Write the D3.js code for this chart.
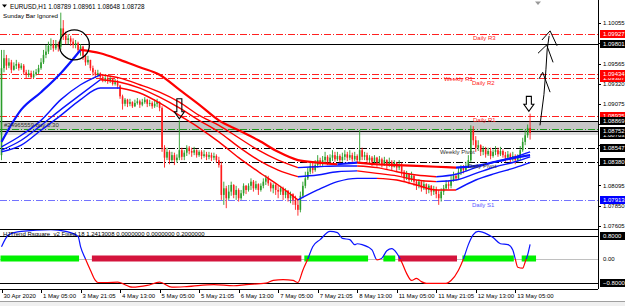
<!DOCTYPE html>
<html>
<head>
<meta charset="utf-8">
<script src="https://cdn.jsdelivr.net/npm/d3@7"></script>
<style>
  body { margin: 0; background: #fff; }
  svg { display: block; font-family: "Liberation Sans", Arial, sans-serif; font-size: 6px; }
</style>
</head>
<body>
<svg id="svg" width="625" height="306"></svg>
<script>
// DATA - EURUSD H1 candles, bar 0 = 30 Apr 2020
var open = [1.0846,1.0951,1.0963,1.0954,1.0958,1.0949,1.0954,1.0956,1.0951,1.0954,
  1.0946,1.0943,1.0945,1.0940,1.0944,1.0946,1.0951,1.0958,1.0967,1.0971,
  1.0978,1.0980,1.0975,1.0979,1.0977,1.0999,1.0990,1.0985,1.0987,1.0983,
  1.0979,1.0981,1.0973,1.0977,1.0966,1.0958,1.0961,1.0951,1.0946,1.0943,
  1.0945,1.0940,1.0937,1.0939,1.0936,1.0938,1.0932,1.0934,1.0930,1.0917,
  1.0908,1.0913,1.0908,1.0910,1.0905,1.0909,1.0911,1.0907,1.0910,1.0913,
  1.0908,1.0909,1.0905,1.0908,1.0910,1.0903,1.0855,1.0843,1.0850,1.0840,
  1.0846,1.0840,1.0843,1.0852,1.0844,1.0849,1.0855,1.0851,1.0849,1.0852,
  1.0846,1.0850,1.0845,1.0847,1.0844,1.0846,1.0843,1.0845,1.0840,1.0834,
  1.0798,1.0806,1.0794,1.0802,1.0810,1.0798,1.0804,1.0794,1.0800,1.0809,
  1.0804,1.0809,1.0814,1.0806,1.0811,1.0804,1.0809,1.0814,1.0818,1.0812,
  1.0806,1.0810,1.0804,1.0802,1.0806,1.0798,1.0803,1.0794,1.0799,1.0792,
  1.0786,1.0780,1.0797,1.0809,1.0818,1.0826,1.0833,1.0828,1.0834,1.0840,
  1.0835,1.0840,1.0844,1.0838,1.0843,1.0846,1.0841,1.0845,1.0840,1.0844,
  1.0847,1.0843,1.0846,1.0841,1.0845,1.0840,1.0852,1.0844,1.0846,1.0840,
  1.0843,1.0838,1.0843,1.0837,1.0841,1.0835,1.0840,1.0834,1.0838,1.0832,
  1.0837,1.0831,1.0834,1.0826,1.0818,1.0823,1.0816,1.0821,1.0814,1.0809,
  1.0814,1.0806,1.0811,1.0804,1.0809,1.0802,1.0805,1.0799,1.0794,1.0802,
  1.0806,1.0811,1.0809,1.0816,1.0821,1.0818,1.0826,1.0831,1.0828,1.0833,
  1.0840,1.0876,1.0864,1.0855,1.0858,1.0850,1.0853,1.0847,1.0851,1.0845,
  1.0850,1.0852,1.0847,1.0851,1.0846,1.0843,1.0847,1.0841,1.0845,1.0840,
  1.0844,1.0852,1.0862,1.0870,1.08789];
var high = [1.0973,1.0973,1.0967,1.0963,1.0961,1.0958,1.0961,1.0958,1.0957,1.0956,
  1.0949,1.0949,1.0948,1.0948,1.0950,1.0955,1.0963,1.0973,1.0979,1.0983,
  1.0987,1.0985,1.0985,1.0983,1.1018,1.1009,1.0995,1.0992,1.0990,1.0987,
  1.0985,1.0983,1.0980,1.0978,1.0967,1.0966,1.0961,1.0954,1.0949,1.0949,
  1.0946,1.0944,1.0943,1.0942,1.0942,1.0939,1.0938,1.0937,1.0931,1.0919,
  1.0915,1.0914,1.0914,1.0911,1.0913,1.0915,1.0913,1.0914,1.0916,1.0914,
  1.0913,1.0911,1.0913,1.0914,1.0911,1.0905,1.0858,1.0855,1.0852,1.0850,
  1.0849,1.0847,1.0888,1.0855,1.0852,1.0858,1.0857,1.0855,1.0856,1.0853,
  1.0852,1.0852,1.0852,1.0850,1.0850,1.0849,1.0849,1.0847,1.0844,1.0838,
  1.0814,1.0809,1.0810,1.0814,1.0811,1.0809,1.0806,1.0804,1.0812,1.0810,
  1.0812,1.0818,1.0816,1.0815,1.0812,1.0812,1.0818,1.0822,1.0821,1.0814,
  1.0812,1.0811,1.0809,1.0809,1.0808,1.0806,1.0804,1.0802,1.0800,1.0797,
  1.0792,1.0802,1.0814,1.0826,1.0831,1.0838,1.0837,1.0840,1.0846,1.0843,
  1.0845,1.0850,1.0846,1.0847,1.0852,1.0850,1.0850,1.0847,1.0849,1.0852,
  1.0850,1.0852,1.0849,1.0850,1.0847,1.0876,1.0855,1.0850,1.0849,1.0846,
  1.0845,1.0846,1.0844,1.0845,1.0843,1.0844,1.0841,1.0843,1.0840,1.0840,
  1.0838,1.0840,1.0837,1.0828,1.0827,1.0824,1.0826,1.0822,1.0816,1.0817,
  1.0815,1.0816,1.0812,1.0811,1.0810,1.0809,1.0808,1.0804,1.0806,1.0810,
  1.0816,1.0815,1.0821,1.0826,1.0824,1.0831,1.0834,1.0834,1.0838,1.0846,
  1.0882,1.0881,1.0869,1.0864,1.0859,1.0857,1.0856,1.0855,1.0855,1.0853,
  1.0857,1.0855,1.0856,1.0853,1.0850,1.0851,1.0849,1.0850,1.0847,1.0847,
  1.0857,1.0867,1.0876,1.0883,1.08961];
var low = [1.0840,1.0946,1.0949,1.0951,1.0945,1.0948,1.0950,1.0948,1.0949,1.0943,
  1.0939,1.0940,1.0938,1.0939,1.0942,1.0944,1.0949,1.0956,1.0963,1.0968,
  1.0973,1.0971,1.0973,1.0971,1.0973,1.0985,1.0980,1.0980,1.0978,1.0975,
  1.0975,1.0969,1.0966,1.0961,1.0954,1.0955,1.0948,1.0942,1.0939,1.0940,
  1.0937,1.0934,1.0934,1.0932,1.0933,1.0930,1.0930,1.0926,1.0914,1.0901,
  1.0905,1.0904,1.0905,1.0903,1.0904,1.0907,1.0903,1.0905,1.0908,1.0904,
  1.0905,1.0902,1.0903,1.0904,1.0899,1.0850,1.0831,1.0840,1.0835,1.0838,
  1.0834,1.0837,1.0840,1.0840,1.0840,1.0845,1.0847,1.0844,1.0846,1.0843,
  1.0844,1.0841,1.0843,1.0840,1.0841,1.0839,1.0840,1.0837,1.0831,1.0792,
  1.0786,1.0782,1.0792,1.0797,1.0794,1.0792,1.0790,1.0792,1.0797,1.0799,
  1.0802,1.0804,1.0802,1.0804,1.0798,1.0802,1.0806,1.0810,1.0809,1.0802,
  1.0800,1.0798,1.0794,1.0798,1.0792,1.0794,1.0790,1.0788,1.0786,1.0780,
  1.0773,1.0777,1.0794,1.0806,1.0816,1.0823,1.0824,1.0826,1.0831,1.0832,
  1.0833,1.0837,1.0834,1.0835,1.0839,1.0838,1.0839,1.0837,1.0838,1.0840,
  1.0839,1.0840,1.0838,1.0839,1.0837,1.0838,1.0840,1.0840,1.0837,1.0835,
  1.0833,1.0835,1.0832,1.0834,1.0831,1.0833,1.0829,1.0832,1.0828,1.0831,
  1.0826,1.0828,1.0821,1.0814,1.0816,1.0811,1.0814,1.0809,1.0804,1.0806,
  1.0802,1.0804,1.0799,1.0800,1.0797,1.0798,1.0794,1.0786,1.0790,1.0798,
  1.0804,1.0805,1.0806,1.0814,1.0815,1.0816,1.0822,1.0824,1.0826,1.0831,
  1.0838,1.0858,1.0850,1.0851,1.0845,1.0846,1.0843,1.0845,1.0841,1.0843,
  1.0846,1.0844,1.0845,1.0843,1.0838,1.0840,1.0837,1.0839,1.0835,1.0838,
  1.0840,1.0850,1.0858,1.0867,1.08648];
var close = [1.0951,1.0963,1.0954,1.0958,1.0949,1.0954,1.0956,1.0951,1.0954,1.0946,
  1.0943,1.0945,1.0940,1.0944,1.0946,1.0951,1.0958,1.0967,1.0971,1.0978,
  1.0980,1.0975,1.0979,1.0977,1.0999,1.0990,1.0985,1.0987,1.0983,1.0979,
  1.0981,1.0973,1.0977,1.0966,1.0958,1.0961,1.0951,1.0946,1.0943,1.0945,
  1.0940,1.0937,1.0939,1.0936,1.0938,1.0932,1.0934,1.0930,1.0917,1.0908,
  1.0913,1.0908,1.0910,1.0905,1.0909,1.0911,1.0907,1.0910,1.0913,1.0908,
  1.0909,1.0905,1.0908,1.0910,1.0903,1.0855,1.0843,1.0850,1.0840,1.0846,
  1.0840,1.0843,1.0852,1.0844,1.0849,1.0855,1.0851,1.0849,1.0852,1.0846,
  1.0850,1.0845,1.0847,1.0844,1.0846,1.0843,1.0845,1.0840,1.0834,1.0798,
  1.0806,1.0794,1.0802,1.0810,1.0798,1.0804,1.0794,1.0800,1.0809,1.0804,
  1.0809,1.0814,1.0806,1.0811,1.0804,1.0809,1.0814,1.0818,1.0812,1.0806,
  1.0810,1.0804,1.0802,1.0806,1.0798,1.0803,1.0794,1.0799,1.0792,1.0786,
  1.0780,1.0797,1.0809,1.0818,1.0826,1.0833,1.0828,1.0834,1.0840,1.0835,
  1.0840,1.0844,1.0838,1.0843,1.0846,1.0841,1.0845,1.0840,1.0844,1.0847,
  1.0843,1.0846,1.0841,1.0845,1.0840,1.0852,1.0844,1.0846,1.0840,1.0843,
  1.0838,1.0843,1.0837,1.0841,1.0835,1.0840,1.0834,1.0838,1.0832,1.0837,
  1.0831,1.0834,1.0826,1.0818,1.0823,1.0816,1.0821,1.0814,1.0809,1.0814,
  1.0806,1.0811,1.0804,1.0809,1.0802,1.0805,1.0799,1.0794,1.0802,1.0806,
  1.0811,1.0809,1.0816,1.0821,1.0818,1.0826,1.0831,1.0828,1.0833,1.0840,
  1.0876,1.0864,1.0855,1.0858,1.0850,1.0853,1.0847,1.0851,1.0845,1.0850,
  1.0852,1.0847,1.0851,1.0846,1.0843,1.0847,1.0841,1.0845,1.0840,1.0844,
  1.0852,1.0862,1.0870,1.0879,1.08728];

// moving average lines, read every 8 bars (thick one first)
var maBars = [0,8,16,24,32,40,48,56,64,72,80,88,96,104,112,120,128,136,144,152,160,168,176,184,192,200,208,214];
var ma1 = [1.0862,1.0901,1.0922,1.0945,1.0973,1.0969,1.0961,1.0952,1.0943,1.0925,1.0907,1.0888,1.0876,1.0864,
  1.0850,1.0840,1.0837,1.0835,1.0837,1.0835,1.0834,1.0833,1.0832,1.0831,1.0833,1.0838,1.0843,1.0846];
var ma2 = [1.0856,1.0870,1.0888,1.0913,1.0931,1.0943,1.0939,1.0931,1.0922,1.0910,1.0894,1.0882,1.0867,1.0852,
  1.0840,1.0831,1.0832,1.0833,1.0833,1.0831,1.0826,1.0822,1.0820,1.0823,1.0831,1.0838,1.0844,1.0850];
var ma3 = [1.0852,1.0864,1.0882,1.0901,1.0919,1.0937,1.0934,1.0927,1.0916,1.0903,1.0888,1.0874,1.0856,1.0840,
  1.0828,1.0820,1.0822,1.0826,1.0827,1.0824,1.0821,1.0816,1.0814,1.0816,1.0824,1.0832,1.0838,1.0844];
var ma4 = [1.0850,1.0858,1.0876,1.0894,1.0913,1.0927,1.0927,1.0921,1.0909,1.0894,1.0879,1.0862,1.0843,1.0826,
  1.0810,1.0792,1.0804,1.0814,1.0818,1.0818,1.0816,1.0810,1.0804,1.0804,1.0816,1.0824,1.0831,1.0837];

// pivot levels
var levelPrice = [1.09927, 1.09434, 1.09387, 1.08935, 1.08547, 1.08380, 1.07913];
var levelName = ["Daily R3", "Weekly R1", "Daily R2", "Daily R1", "Weekly Pivot", "Daily Pivot", "Daily S1"];
var solidPrice = [1.09801, 1.08869, 1.08752];
var zonePrice = [1.08869, 1.08752, 1.08703];
var tradePrice = 1.08776;
var tradeText = "#24965559 buy 0.30";

// right axis
var priceTicks = [1.07605,1.07850,1.08095,1.08340,1.08585,1.08830,1.09075,1.09320,1.09565,1.09810,1.10055];
var boxPrice = [1.09387, 1.09434, 1.09927, 1.09801, 1.08935, 1.08703, 1.08752, 1.08869, 1.08547, 1.08380, 1.07913];
var boxKind = ["r", "r", "r", "k", "r", "k", "k", "k", "k", "k", "b"];

// time axis
var tickBars = [0,16,32,48,64,80,96,112,128,144,160,176,192,208];
var tickLabels = ["30 Apr 2020","1 May 05:00","3 May 21:05","4 May 13:00","5 May 05:00","5 May 21:05",
  "6 May 13:00","7 May 05:00","7 May 21:05","8 May 13:00","11 May 05:00","11 May 21:05","12 May 13:00","13 May 05:00"];

// sub window oscillator
var oscBars = [0,3,8,20,26,31,32,34,36,38,39,43,47,53,59,64,69,75,86,94,99,107,110,114,118,120,122,124,126,129,
  133,136,138,141,143,144,146,150,152,154,156,158,160,162,164,166,168,170,172,176,180,182,185,187,189,191,193,197,
  199,202,205,207,208,209,211,212,213,214];
var oscVals = [0.42,0.83,0.94,1.0,0.94,0.77,0.42,0,-0.38,-0.73,-0.8,-0.8,-0.79,-0.96,-0.9,-0.79,-0.96,-0.94,-0.87,-0.91,
  -0.87,-0.82,-0.73,-0.7,-0.73,-0.8,-0.38,0,0.42,0.66,0.94,0.9,0.7,0.66,0.49,0.52,0.49,0.31,-0.03,0.03,
  0.28,0.35,0.2,-0.1,-0.49,-0.73,-0.66,-0.77,-0.83,-0.83,-0.83,-0.73,-0.38,0,0.49,0.83,0.94,0.83,0.73,0.52,
  0.49,0.31,0,-0.28,-0.31,-0.1,0.14,0.5];
var stateFrom = [0, 37, 123, 155, 161, 187, 211];
var stateTo = [31, 121, 148, 159, 184, 207, 216];
var stateUp = [1, 0, 1, 1, 0, 1, 1];
var oscLevels = [0.8, -0.8];
var oscTitle = "HJTrend Rsquare_v2 Fixed 18 1.2413008 0.0000000 0.0000000 0.2000000";

// SETUP
var svg = d3.select("#svg"),
  plotW = 598, mainH = 229, subBottom = 289;

var x = d3.scaleLinear().domain([0, 214]).range([1.5, 530.1]),
  y = d3.scaleLinear().domain([1.07605, 1.10055]).range([226, 23]),
  yo = d3.scaleLinear().domain([-0.8, 0.8]).range([282.5, 235.5]);

var fmt = d3.format(".5f");
function py(p) { return Math.round(y(p)) + 0.5; }

var defs = svg.append("defs");
defs.append("clipPath").attr("id", "clipMain")
  .append("rect").attr("width", plotW).attr("height", mainH);
defs.append("clipPath").attr("id", "clipUp")
  .append("rect").attr("y", mainH).attr("width", plotW).attr("height", yo(0) - mainH);
defs.append("clipPath").attr("id", "clipDown")
  .append("rect").attr("y", yo(0)).attr("width", plotW).attr("height", subBottom - yo(0));

svg.append("rect").attr("width", 625).attr("height", 306).attr("fill", "#fff");

var main = svg.append("g").attr("clip-path", "url(#clipMain)");

// grey zone of the open trade
main.append("rect").attr("x", 0).attr("width", plotW)
  .attr("y", y(zonePrice[0])).attr("height", y(zonePrice[1]) - y(zonePrice[0]))
  .attr("fill", "#c6c6c6");
main.append("rect").attr("x", 0).attr("width", plotW)
  .attr("y", y(zonePrice[1])).attr("height", y(zonePrice[2]) - y(zonePrice[1]))
  .attr("fill", "#dcdcdc");

var levelColor = ["#ff2020", "#ff2020", "#ff2020", "#ff2020", "#000", "#000", "#7373ff"];
var levelTextColor = ["#ff2020", "#ff2020", "#ff2020", "#ff2020", "#333", "#333", "#5a5aff"];
var levelLabelX = [473, 444, 472, 473, 440, 468, 472];

main.selectAll(".lvl")
  .data(levelPrice)
  .enter().append("line")
  .attr("class", "lvl")
  .attr("x1", 0).attr("x2", plotW)
  .attr("y1", py).attr("y2", py)
  .attr("stroke", function (d, i) { return levelColor[i]; })
  .attr("stroke-dasharray", "7,2,1,2");

main.selectAll(".solid")
  .data(solidPrice)
  .enter().append("line")
  .attr("class", "solid")
  .attr("x1", 0).attr("x2", plotW)
  .attr("y1", py).attr("y2", py)
  .attr("stroke", "#000");

main.append("line")
  .attr("x1", 0).attr("x2", plotW)
  .attr("y1", py(tradePrice)).attr("y2", py(tradePrice))
  .attr("stroke", "#1f9a1f")
  .attr("stroke-dasharray", "7,2,1,2");

// candles
var bull = "#2a9d2a", bear = "#ff1c1c";
var idx = d3.range(close.length);
var candles = main.append("g");
candles.selectAll("line")
  .data(idx)
  .enter().append("line")
  .attr("x1", function (i) { return x(i); })
  .attr("x2", function (i) { return x(i); })
  .attr("y1", function (i) { return y(high[i]); })
  .attr("y2", function (i) { return y(low[i]); })
  .attr("stroke", function (i) { return close[i] >= open[i] ? bull : bear; })
  .attr("stroke-width", 0.9);
candles.selectAll("rect")
  .data(idx)
  .enter().append("rect")
  .attr("x", function (i) { return x(i) - 0.8; })
  .attr("width", 1.6)
  .attr("y", function (i) { return y(Math.max(open[i], close[i])); })
  .attr("height", function (i) { return Math.max(1, Math.abs(y(open[i]) - y(close[i]))); })
  .attr("fill", function (i) { return close[i] >= open[i] ? bull : bear; });

// moving averages, blue while rising and red while falling
function runs(vals) {
  var out = [], cur = null, col = null;
  for (var k = 1; k < maBars.length; k++) {
    var c = vals[k] > vals[k - 1] ? "#0a14ff" : (vals[k] < vals[k - 1] ? "#ff0000" : col);
    if (c !== col) {
      cur = { color: c, pts: [[maBars[k - 1], vals[k - 1]]] };
      out.push(cur);
      col = c;
    }
    cur.pts.push([maBars[k], vals[k]]);
  }
  return out;
}
var maLine = d3.line()
  .x(function (d) { return x(d[0]); })
  .y(function (d) { return y(d[1]); })
  .curve(d3.curveMonotoneX);

[ma4, ma3, ma2, ma1].forEach(function (vals, n) {
  main.append("g").selectAll("path")
    .data(runs(vals))
    .enter().append("path")
    .attr("d", function (r) { return maLine(r.pts); })
    .attr("fill", "none")
    .attr("stroke", function (r) { return r.color; })
    .attr("stroke-width", n === 3 ? 2.2 : 1.4);
});

// level labels
main.selectAll(".lvlText")
  .data(levelPrice)
  .enter().append("text")
  .attr("x", function (d, i) { return levelLabelX[i]; })
  .attr("y", function (d) { return y(d) + 6.5; })
  .attr("fill", function (d, i) { return levelTextColor[i]; })
  .text(function (d, i) { return levelName[i]; });

main.append("text")
  .attr("x", 4).attr("y", y(zonePrice[0]) + 5.5)
  .attr("fill", "#333")
  .text(tradeText);

// annotations
main.append("circle")
  .attr("cx", x(29.5)).attr("cy", y(1.0979)).attr("r", 15)
  .attr("fill", "none").attr("stroke", "#000").attr("stroke-width", 1.3);

function downArrow(bar, top, tip) {
  var cx = x(bar), t = y(top), e = y(tip), m = e - 7;
  return "M" + (cx - 2.5) + "," + t + "H" + (cx + 2.5) + "V" + m + "H" + (cx + 5) +
    "L" + cx + "," + e + "L" + (cx - 5) + "," + m + "H" + (cx - 2.5) + "Z";
}
main.append("path").attr("d", downArrow(72, 1.0914, 1.0890))
  .attr("fill", "none").attr("stroke", "#000").attr("stroke-width", 1.1);
main.append("path").attr("d", downArrow(213.5, 1.0917, 1.0899))
  .attr("fill", "none").attr("stroke", "#000").attr("stroke-width", 1.1);

var sketch = [
  [[218.0, 1.0882], [219.6, 1.0919], [220.4, 1.0949], [220.9, 1.0973], [221.7, 1.0990]],
  [[218.8, 1.0985], [222.1, 1.0996], [224.9, 1.0978]],
  [[217.2, 1.0969], [220.7, 1.0979], [223.3, 1.0958]],
  [[217.6, 1.0938], [219.1, 1.0946], [222.1, 1.0922]]
];
var sketchLine = d3.line()
  .x(function (d) { return x(d[0]); })
  .y(function (d) { return y(d[1]); });
main.selectAll(".sketch")
  .data(sketch)
  .enter().append("path")
  .attr("d", sketchLine)
  .attr("fill", "none").attr("stroke", "#000").attr("stroke-width", 1);

// header
svg.append("path").attr("d", "M2,4.5H7L4.5,7.5Z").attr("fill", "#000");
svg.append("text").attr("x", 10).attr("y", 8.5).style("font-size", "6.3px")
  .text("EURUSD,H1  1.08789 1.08961 1.08648 1.08728");
svg.append("text").attr("x", 3).attr("y", 17.5).style("font-size", "6.2px")
  .text("Sunday Bar Ignored");
svg.append("path").attr("d", "M535,1.5H541L538,5Z").attr("fill", "#999");

// right price axis - scale labels under a price box are not drawn
var axis = svg.append("g");
var freeTicks = priceTicks.filter(function (t) {
  return boxPrice.every(function (b) { return Math.abs(y(b) - y(t)) > 4; });
});
axis.selectAll(".tk")
  .data(priceTicks)
  .enter().append("line")
  .attr("x1", plotW).attr("x2", plotW + 3)
  .attr("y1", py).attr("y2", py)
  .attr("stroke", "#000");
axis.selectAll(".tkText")
  .data(freeTicks)
  .enter().append("text")
  .attr("x", 603).attr("y", function (d) { return y(d) + 2.2; })
  .attr("fill", "#000")
  .text(fmt);

var boxFill = { r: "#ff0000", k: "#000", b: "#0000ff" };
var bx = axis.selectAll(".box")
  .data(boxPrice)
  .enter().append("g");
bx.append("rect")
  .attr("x", plotW + 2).attr("width", 27)
  .attr("y", function (d) { return Math.round(y(d)) - 4; })
  .attr("height", 8)
  .attr("fill", function (d, i) { return boxFill[boxKind[i]]; });
bx.append("text")
  .attr("x", 603).attr("y", function (d) { return Math.round(y(d)) + 2.2; })
  .attr("fill", "#fff")
  .text(fmt);

// sub window
var sub = svg.append("g");
sub.append("line").attr("x1", 0).attr("x2", plotW)
  .attr("y1", Math.round(yo(0)) + 0.5).attr("y2", Math.round(yo(0)) + 0.5)
  .attr("stroke", "#c0c0c0");
sub.selectAll(".olvl")
  .data(oscLevels)
  .enter().append("line")
  .attr("x1", 0).attr("x2", plotW)
  .attr("y1", function (d) { return Math.round(yo(d)) + 0.5; })
  .attr("y2", function (d) { return Math.round(yo(d)) + 0.5; })
  .attr("stroke", "#000");

sub.selectAll(".state")
  .data(stateFrom)
  .enter().append("rect")
  .attr("x", function (d) { return x(d) - 1; })
  .attr("width", function (d, i) { return x(stateTo[i]) - x(d) + 2; })
  .attr("y", yo(0) - 3.5).attr("height", 6)
  .attr("fill", function (d, i) { return stateUp[i] ? "#00f000" : "#d4143c"; });

var osc = d3.zip(oscBars, oscVals);
var oscLine = d3.line()
  .x(function (d) { return x(d[0]); })
  .y(function (d) { return yo(d[1]); })
  .curve(d3.curveMonotoneX);
sub.append("path").datum(osc).attr("d", oscLine)
  .attr("clip-path", "url(#clipUp)")
  .attr("fill", "none").attr("stroke", "#0a14ff").attr("stroke-width", 1.2);
sub.append("path").datum(osc).attr("d", oscLine)
  .attr("clip-path", "url(#clipDown)")
  .attr("fill", "none").attr("stroke", "#ff0000").attr("stroke-width", 1.2);

sub.append("text").attr("x", 3).attr("y", 236).attr("fill", "#000").text(oscTitle);

var ob = sub.selectAll(".obox")
  .data(oscLevels)
  .enter().append("g");
ob.append("rect")
  .attr("x", plotW + 2).attr("width", 27)
  .attr("y", function (d) { return Math.round(yo(d)) - 4; })
  .attr("height", 8).attr("fill", "#000");
ob.append("text")
  .attr("x", 603).attr("y", function (d) { return Math.round(yo(d)) + 2.2; })
  .attr("fill", "#fff")
  .text(d3.format(".4f"));
sub.append("text").attr("x", 603).attr("y", yo(0) + 2.2).text("0.00");

// frame
var frame = svg.append("g").attr("stroke", "#000").attr("fill", "none");
frame.append("line").attr("x1", plotW + 0.5).attr("x2", plotW + 0.5).attr("y1", 0).attr("y2", subBottom);
frame.append("line").attr("x1", 0).attr("x2", plotW).attr("y1", mainH + 0.5).attr("y2", mainH + 0.5);
frame.append("line").attr("x1", 0).attr("x2", plotW).attr("y1", subBottom + 0.5).attr("y2", subBottom + 0.5);

// time axis
var tx = svg.append("g");
tx.selectAll("line")
  .data(tickBars)
  .enter().append("line")
  .attr("x1", function (d) { return Math.round(x(d)) + 0.5; })
  .attr("x2", function (d) { return Math.round(x(d)) + 0.5; })
  .attr("y1", subBottom).attr("y2", subBottom + 4)
  .attr("stroke", "#000");
tx.selectAll("text")
  .data(tickBars)
  .enter().append("text")
  .attr("x", function (d) { return x(d) + 2; })
  .attr("y", 298)
  .text(function (d, i) { return tickLabels[i]; });

// tab strip
svg.append("rect").attr("x", 0).attr("y", 301).attr("width", 625).attr("height", 5).attr("fill", "#f0f0f0");
svg.append("line").attr("x1", 0).attr("x2", 625).attr("y1", 301.5).attr("y2", 301.5).attr("stroke", "#a0a0a0");
</script>
</body>
</html>
